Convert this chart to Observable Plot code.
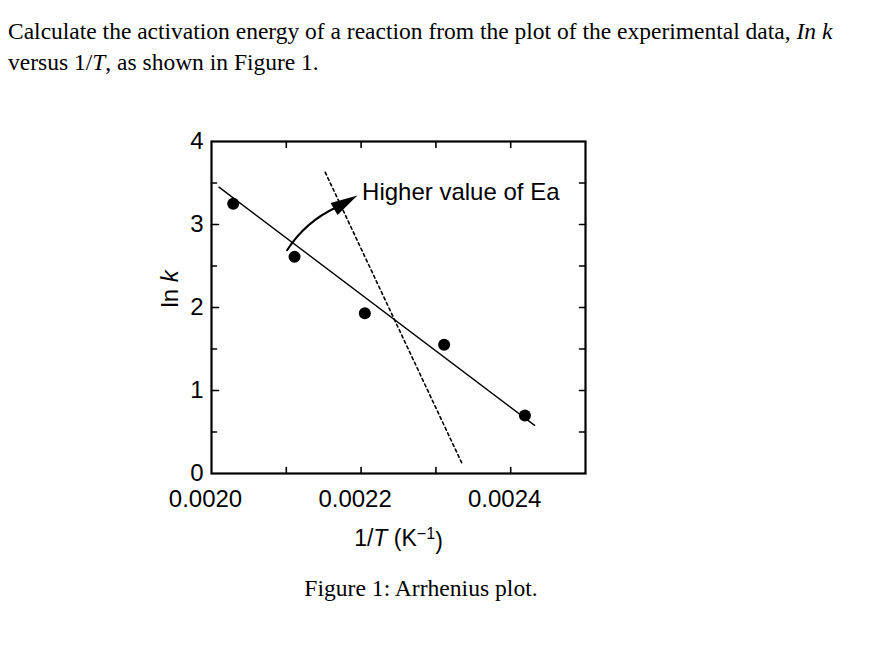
<!DOCTYPE html>
<html><head><meta charset="utf-8">
<script src="https://cdn.jsdelivr.net/npm/d3@7"></script>
<script src="https://cdn.jsdelivr.net/npm/@observablehq/plot@0.6"></script>
<style>
body{margin:0;background:#fff;width:870px;overflow:hidden;}
#title{font-family:"Liberation Serif","Times New Roman",serif;font-size:23.5px;line-height:31px;padding:16px 0 0 8px;height:94px;box-sizing:border-box;color:#000;}
#caption{font-family:"Liberation Serif","Times New Roman",serif;font-size:23.6px;line-height:30px;text-align:center;margin-top:13px;width:842px;color:#000;}
#chart svg{display:block;}
</style></head>
<body>
<div id="title">Calculate the activation energy of a reaction from the plot of the experimental data, <i>In k</i><br>versus 1/<i>T</i>, as shown in Figure 1.</div>
<div id="chart"></div>
<div id="caption">Figure 1: Arrhenius plot.</div>
<script>
// data
const invT = [0.002029, 0.002111, 0.002205, 0.002311, 0.002419];
const lnK = [3.25, 2.61, 1.93, 1.55, 0.70];
const fitX = [0.00201, 0.002432];
const fitY = [3.45, 0.58];
const steepX = [0.002152, 0.002336];
const steepY = [3.63, 0.10];
const arrowStart = [0.002101, 2.69];
const arrowBase = [0.0021663, 3.205];
const arrowTip = [0.0021951, 3.349];
const noteText = "Higher value of Ea";
const notePos = [0.0022013, 3.39];
const xTicks = [0.0020, 0.0022, 0.0024];
const xAllTicks = [0.0021, 0.0022, 0.0023, 0.0024];
const yTicks = [0, 1, 2, 3, 4];
const yMinor = [0.5, 1.5, 2.5, 3.5];
const yMajorInner = [1, 2, 3];
const xDomain = [0.0020, 0.0025];
const yDomain = [0, 4];
const xLabel = "1/T (K⁻¹)";
const yLabel = "ln k";

const points = invT.map((x, i) => ({x, y: lnK[i]}));
const fit = fitX.map((x, i) => ({x, y: fitY[i]}));
const steep = steepX.map((x, i) => ({x, y: steepY[i]}));

const line = {draw(c, l) { c.moveTo(0, 0); c.lineTo(0, -l); }};
const head = {draw(c) { c.moveTo(0, 0); c.lineTo(7, 27); c.lineTo(-7, 27); c.closePath(); }};
const font = '"Liberation Sans", Arial, Helvetica, sans-serif';

const svg = Plot.plot({
  width: 870, height: 466,
  marginLeft: 211, marginRight: 285, marginTop: 47, marginBottom: 87,
  style: {fontFamily: font, fontSize: "24px", color: "#000", background: "#fff"},
  x: {domain: xDomain},
  y: {domain: yDomain},
  marks: [
    Plot.axisX({ticks: xTicks, tickSize: 0, tickPadding: 16, tickFormat: d3.format(".4f"), fontSize: 24, label: null, dx: -6}),
    Plot.axisY({ticks: yTicks, tickSize: 0, tickPadding: 8, tickFormat: d3.format("d"), fontSize: 24, label: null}),
    // inward ticks
    Plot.vector(xAllTicks, {x: d => d, frameAnchor: "bottom", length: 6, rotate: 0, anchor: "start", shape: line, stroke: "#000", strokeWidth: 1.6}),
    Plot.vector(xAllTicks, {x: d => d, frameAnchor: "top", length: 6, rotate: 180, anchor: "start", shape: line, stroke: "#000", strokeWidth: 1.6}),
    Plot.vector(yMajorInner, {y: d => d, frameAnchor: "left", length: 7, rotate: 90, anchor: "start", shape: line, stroke: "#000", strokeWidth: 1.6}),
    Plot.vector(yMinor, {y: d => d, frameAnchor: "left", length: 5, rotate: 90, anchor: "start", shape: line, stroke: "#000", strokeWidth: 1.6}),
    Plot.vector([...yMinor, ...yMajorInner], {y: d => d, frameAnchor: "right", length: 6, rotate: -90, anchor: "start", shape: line, stroke: "#000", strokeWidth: 1.6}),
    Plot.frame({stroke: "#000", strokeWidth: 2.2}),
    Plot.line(steep, {x: "x", y: "y", stroke: "#000", strokeWidth: 1.6, strokeDasharray: "3,3"}),
    Plot.line(fit, {x: "x", y: "y", stroke: "#000", strokeWidth: 1.4}),
    Plot.dot(points, {x: "x", y: "y", r: 6, fill: "#000", stroke: null}),
    Plot.arrow([0], {x1: () => arrowStart[0], y1: () => arrowStart[1], x2: () => arrowBase[0], y2: () => arrowBase[1], bend: 16, headLength: 0, stroke: "#000", strokeWidth: 2}),
    Plot.dot([arrowTip], {x: d => d[0], y: d => d[1], symbol: head, rotate: 60, fill: "#000", stroke: null, r: 5}),
    Plot.text([noteText], {x: () => notePos[0], y: () => notePos[1], text: d => d, textAnchor: "start", lineAnchor: "middle", fontSize: 24, fill: "#000"}),
    Plot.text([xLabel], {frameAnchor: "bottom", dy: 65, text: d => d, lineAnchor: "middle", fontSize: 23, fill: "#000"}),
    Plot.text([yLabel], {frameAnchor: "left", dx: -41, dy: 0, rotate: -90, text: d => d, lineAnchor: "middle", fontSize: 24, fill: "#000"})
  ]
});
document.getElementById("chart").appendChild(svg);
svg.querySelectorAll("text").forEach(t => {
  if (t.textContent === xLabel) t.innerHTML = '1/<tspan font-style="italic">T</tspan> (K<tspan dy="-0.45em" font-size="70%">−1</tspan><tspan dy="0.45em">)</tspan>';
  else if (t.textContent === yLabel) t.innerHTML = 'ln <tspan font-style="italic">k</tspan>';
});
</script>
</body></html>
